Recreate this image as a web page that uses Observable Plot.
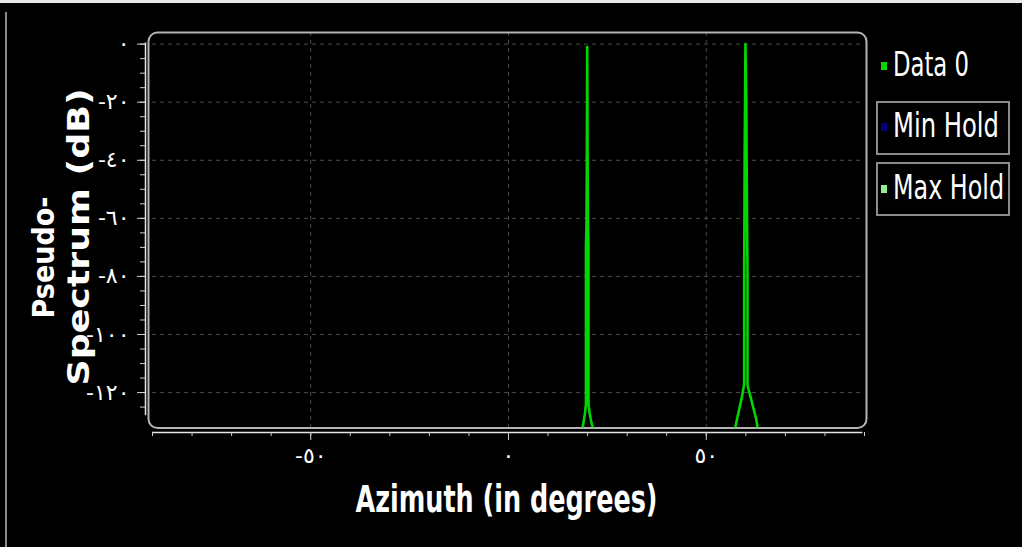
<!DOCTYPE html>
<html>
<head>
<meta charset="utf-8">
<script src="https://cdn.jsdelivr.net/npm/d3@7"></script>
<script src="https://cdn.jsdelivr.net/npm/@observablehq/plot@0.6"></script>
<style>
  html, body { margin: 0; padding: 0; background: #000; }
  #wrap { position: relative; width: 1022px; height: 547px; background: #000; overflow: hidden; }
  #wrap svg { position: absolute; left: 0; top: 0; }
  .edge-top { position: absolute; left: 0; top: 0; width: 1022px; height: 3px; background: #e8e8e8; }
  .edge-left { position: absolute; left: 5px; top: 12px; width: 2px; height: 535px; background: #8a8a8a; }
  .leg { position: absolute; color: #fff; font-family: "DejaVu Sans", sans-serif; font-size: 33px; line-height: 1; white-space: nowrap; transform-origin: 0 50%; }
  .legbox { position: absolute; border: 2px solid #8c8c8c; box-sizing: border-box; }
  .swatch { position: absolute; width: 6px; height: 8px; }
</style>
</head>
<body>
<div id="wrap"></div>
<script>
(function () {
// ---- data ----
const azimuth = [
  -90, 18.3, 18.6, 19.0, 19.35, 19.58, 19.58, 19.7, 19.8, 19.9, 20.0, 20.1, 20.22, 20.22, 20.5, 20.9, 21.5, 21.9,
  40,
  57.0, 57.3, 57.8, 58.4, 59.0, 59.4, 59.58, 59.58, 59.7, 59.9, 60.1, 60.3, 60.42, 60.42, 60.6, 61.2, 61.9, 62.6, 63.0, 63.3,
  90
];
const power = [
  -140, -136, -133, -130, -127, -124, -70, -63, -42, -1, -42, -63, -70, -124, -127, -130, -133, -136,
  -140,
  -136, -132.2, -129, -125.3, -121.5, -118.5, -117, -79, -40, 0, -20, -59, -79, -117, -118.5, -121.5, -125.3, -129, -132.2, -136,
  -140
];
const yTicks = [0, -20, -40, -60, -80, -100, -120];
const yMinorTicks = [0, -5, -10, -15, -20, -25, -30, -35, -40, -45, -50, -55, -60, -65, -70, -75, -80, -85, -90, -95, -100, -105, -110, -115, -120, -125];
const xTicks = [-50, 0, 50];
const xMinorTicks = [-90, -80, -70, -60, -50, -40, -30, -20, -10, 0, 10, 20, 30, 40, 50, 60, 70, 80, 90];
const xDomain = [-90, 90];
const yDomain = [-132.2, 4];
const seriesNames = ["Data 0", "Min Hold", "Max Hold"];
const seriesColors = ["#00d800", "#000080", "#90ee90"];
const xTitle = "Azimuth (in degrees)";
const yTitleLines = ["Pseudo-", "Spectrum (dB)"];

// ---- Arabic-Indic numerals ----
const arLocale = d3.formatLocale({
  decimal: "\u066B", thousands: "\u066C", grouping: [3], currency: ["", ""],
  numerals: ["\u0660","\u0661","\u0662","\u0663","\u0664","\u0665","\u0666","\u0667","\u0668","\u0669"],
  minus: "-"
});
const fmt = arLocale.format("d");

const data = azimuth.map((a, i) => ({az: a, p: power[i]}));

const tickFont = "22px";
const chart = Plot.plot({
  width: 1022,
  height: 547,
  marginLeft: 152,
  marginRight: 158,
  marginTop: 32,
  marginBottom: 119.5,
  style: {background: "transparent", color: "white", fontFamily: "'DejaVu Sans', sans-serif", overflow: "visible"},
  x: {domain: xDomain},
  y: {domain: yDomain},
  marks: [
    Plot.gridY(yTicks, {stroke: "#4a4a4a", strokeOpacity: 1, strokeDasharray: "4,4"}),
    Plot.gridX(xTicks, {stroke: "#4a4a4a", strokeOpacity: 1, strokeDasharray: "4,4"}),
    Plot.frame({stroke: "#b4b4b4", strokeWidth: 2, rx: 9, insetLeft: -4, insetRight: -2}),
    Plot.line(data, {x: "az", y: "p", stroke: seriesColors[0], strokeWidth: 2.6, clip: true}),
    // titles
    Plot.text([yTitleLines[0]], {text: d => d, frameAnchor: "top-left", dx: -108, dy: 225, rotate: -90, fill: "white", fontSize: 30, fontWeight: "bold", fontFamily: "'DejaVu Sans', sans-serif", textAnchor: "middle", lineAnchor: "middle"}),
    Plot.text([yTitleLines[1]], {text: d => d, frameAnchor: "top-left", dx: -73, dy: 204.5, rotate: -90, fill: "white", fontSize: 30, fontWeight: "bold", fontFamily: "'DejaVu Sans', sans-serif", textAnchor: "middle", lineAnchor: "middle"}),
    Plot.text([xTitle], {text: d => d, frameAnchor: "bottom", dx: -2, dy: 72.5, fill: "white", fontSize: 37, fontWeight: "bold", fontFamily: "'DejaVu Sans', sans-serif", textAnchor: "middle", lineAnchor: "middle"}),
    // y axis
    Plot.ruleX([xDomain[0]], {y1: 0.4, y2: -128, dx: -7, stroke: "#e6e6e6", strokeWidth: 1.5}),
    Plot.axisY({ticks: yMinorTicks, tickSize: 5, dx: -7, text: null, label: null, stroke: "#d0d0d0"}),
    Plot.axisY({ticks: yTicks, tickSize: 8, dx: -7, tickPadding: 8, tickFormat: fmt, label: null, fontSize: tickFont, stroke: "#d0d0d0", fill: "white"}),
    // x axis
    Plot.ruleY([yDomain[0]], {x1: xDomain[0], x2: 89.6, dy: 4.5, stroke: "#e6e6e6", strokeWidth: 1.5}),
    Plot.axisX({ticks: xMinorTicks, tickSize: 4, dy: 4.5, text: null, label: null, stroke: "#d0d0d0"}),
    Plot.axisX({ticks: xTicks, tickSize: 8, dy: 4.5, tickPadding: 7, tickFormat: fmt, label: null, fontSize: tickFont, stroke: "#d0d0d0", fill: "white"})
  ]
});

// fit title widths to the reference proportions
const fitWidths = new Map([[yTitleLines[0], 122], [yTitleLines[1], 297], [xTitle, 302]]);
chart.querySelectorAll("text").forEach(t => {
  const w = fitWidths.get(t.textContent);
  if (w) { t.setAttribute("textLength", w); t.setAttribute("lengthAdjust", "spacingAndGlyphs"); }
});

const wrap = document.getElementById("wrap");
wrap.appendChild(chart);

// decorative window edges
const edgeTop = document.createElement("div"); edgeTop.className = "edge-top"; wrap.appendChild(edgeTop);
const edgeLeft = document.createElement("div"); edgeLeft.className = "edge-left"; wrap.appendChild(edgeLeft);

// legend
const legendRows = [
  {name: seriesNames[0], color: seriesColors[0], cy: 66, box: false, w: 76},
  {name: seriesNames[1], color: seriesColors[1], cy: 127, box: true, w: 106},
  {name: seriesNames[2], color: seriesColors[2], cy: 188.5, box: true, w: 111}
];
legendRows.forEach(r => {
  if (r.box) {
    const b = document.createElement("div");
    b.className = "legbox";
    b.style.left = "876px"; b.style.top = (r.cy - 26.5) + "px";
    b.style.width = "134px"; b.style.height = "54px";
    wrap.appendChild(b);
  }
  const s = document.createElement("div");
  s.className = "swatch";
  s.style.left = "881px"; s.style.top = (r.cy - 4) + "px"; s.style.background = r.color;
  wrap.appendChild(s);
  const t = document.createElement("div");
  t.className = "leg";
  t.textContent = r.name;
  t.style.left = "893px"; t.style.top = (r.cy - 18) + "px";
  wrap.appendChild(t);
  const natural = t.getBoundingClientRect().width;
  if (natural > 0) t.style.transform = "scaleX(" + (r.w / natural) + ")";
});
})();
</script>
</body>
</html>
